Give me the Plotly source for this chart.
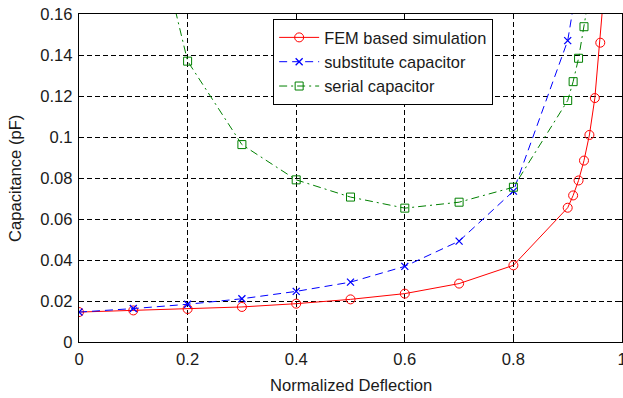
import plotly.graph_objects as go

# FEM based simulation
fem_x = [0, 0.1, 0.2, 0.3, 0.4, 0.5, 0.6, 0.7, 0.8, 0.9, 0.91, 0.92, 0.93, 0.94, 0.95, 0.96, 0.97]
fem_y = [0.0146, 0.0154, 0.0161, 0.0171, 0.0187, 0.0208, 0.0236, 0.0285, 0.0374, 0.0655, 0.0715,
         0.0788, 0.0885, 0.101, 0.119, 0.146, 0.181]

# substitute capacitor
sub_x = [0, 0.1, 0.2, 0.3, 0.4, 0.5, 0.6, 0.7, 0.8, 0.9, 0.92]
sub_y = [0.0146, 0.0163, 0.0184, 0.0211, 0.0247, 0.0292, 0.0369, 0.0492, 0.0736, 0.147, 0.179]

# serial capacitor
ser_x = [0.1, 0.2, 0.3, 0.4, 0.5, 0.6, 0.7, 0.8, 0.9, 0.91, 0.92, 0.93, 0.94]
ser_y = [0.247, 0.137, 0.0963, 0.0791, 0.0707, 0.0653, 0.0682, 0.0755, 0.1178, 0.127, 0.1384,
         0.1538, 0.170]

x_title = "Normalized Deflection"
y_title = "Capacitance (pF)"

FONT = "Liberation Sans, Arial, Helvetica, sans-serif"
TXT = "#1a1a1a"

fig = go.Figure()
fig.add_trace(go.Scatter(
    x=fem_x, y=fem_y, mode="lines+markers", name="FEM based simulation",
    line=dict(color="#ff0000", width=1),
    marker=dict(symbol="circle-open", size=9, color="#ff0000", line=dict(width=1)),
))
fig.add_trace(go.Scatter(
    x=sub_x, y=sub_y, mode="lines+markers", name="substitute capacitor",
    line=dict(color="#0000ff", width=1, dash="8px,5px"),
    marker=dict(symbol="x-thin-open", size=7, color="#0000ff", line=dict(width=1.3, color="#0000ff")),
))
fig.add_trace(go.Scatter(
    x=ser_x, y=ser_y, mode="lines+markers", name="serial capacitor",
    line=dict(color="#008000", width=1, dash="8px,4px,2px,4px"),
    marker=dict(symbol="square-open", size=8, color="#008000", line=dict(width=1)),
))

axis_common = dict(
    showline=True, linecolor="black", linewidth=1.3, mirror="ticks",
    ticks="inside", ticklen=5, tickcolor="black", tickwidth=1,
    showgrid=True, gridcolor="black", gridwidth=1, griddash="5px,3px",
    zeroline=False, automargin=False, ticklabeloverflow="allow",
    tickfont=dict(family=FONT, size=16.6, color=TXT),
)

fig.update_xaxes(range=[0, 1], dtick=0.2, tick0=0, ticklabelstandoff=2, **axis_common)
fig.update_yaxes(range=[0, 0.16], dtick=0.02, tick0=0, ticklabelstandoff=2, **axis_common)

fig.add_annotation(text=x_title, xref="paper", yref="paper", x=0.5, y=-0.133,
                   xanchor="center", yanchor="middle", showarrow=False,
                   font=dict(family=FONT, size=16.6, color=TXT))
fig.add_annotation(text=y_title, xref="paper", yref="paper", x=-0.118, y=0.5,
                   xanchor="center", yanchor="middle", showarrow=False, textangle=-90,
                   font=dict(family=FONT, size=16.6, color=TXT))

fig.update_layout(
    width=623, height=398,
    margin=dict(l=79.2, r=1.3, t=14.0, b=55.6, autoexpand=False),
    plot_bgcolor="white", paper_bgcolor="white",
    showlegend=True,
    legend=dict(
        x=0.357, y=0.985, xanchor="left", yanchor="top",
        bgcolor="white", bordercolor="black", borderwidth=1.3,
        font=dict(family=FONT, size=16.4, color=TXT),
        tracegroupgap=0, itemwidth=40,
    ),
)

fig.write_html("out.html",
               config={"displayModeBar": False},
               post_script="document.body.style.margin='0';document.body.style.overflow='hidden';")
